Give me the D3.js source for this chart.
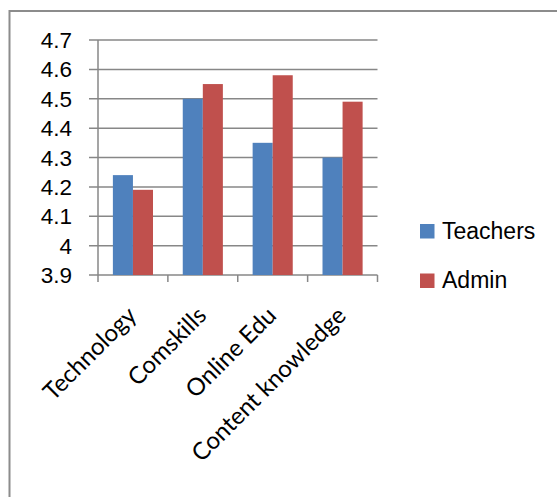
<!DOCTYPE html>
<html>
<head>
<meta charset="utf-8">
<script src="https://cdn.jsdelivr.net/npm/d3@7"></script>
<style>
  html, body { margin: 0; padding: 0; background: #fff; }
  svg { display: block; }
</style>
</head>
<body>
<div id="chart"></div>
<script>
const categories = ["Technology", "Comskills", "Online Edu", "Content knowledge"];
const seriesNames = ["Teachers", "Admin"];
const teachers = [4.24, 4.50, 4.35, 4.30];
const admin = [4.19, 4.55, 4.58, 4.49];
const yTicks = [3.9, 4.0, 4.1, 4.2, 4.3, 4.4, 4.5, 4.6, 4.7];
const colors = ["#4F81BD", "#C0504D"];

const W = 557, H = 497;
const svg = d3.select("#chart").append("svg").attr("width", W).attr("height", H);

// outer frame
svg.append("rect").attr("x", 9.5).attr("y", 11).attr("width", 700).attr("height", 700)
  .attr("fill", "none").attr("stroke", "#8c8c8c").attr("stroke-width", 2);

const pLeft = 98, pRight = 377.5, pTop = 40, pBottom = 275;
const x0 = d3.scaleBand().domain(categories).range([pLeft, pRight]).padding(0);
const bw = x0.bandwidth();
const pad = bw * 0.213;
const x1 = d3.scaleBand().domain(seriesNames).range([pad, bw - pad]).padding(0);
const y = d3.scaleLinear().domain([3.9, 4.7]).range([pBottom, pTop]);

// gridlines
svg.append("g").selectAll("line").data(yTicks).join("line")
  .attr("x1", pLeft - 9).attr("x2", pRight)
  .attr("y1", d => y(d)).attr("y2", d => y(d))
  .attr("stroke", "#878787").attr("stroke-width", 1.5);

// y axis line
svg.append("line").attr("x1", pLeft).attr("x2", pLeft).attr("y1", pTop).attr("y2", pBottom)
  .attr("stroke", "#878787").attr("stroke-width", 1.5);

// x tick marks at category boundaries
const bounds = categories.map(c => x0(c)).concat([x0(categories[categories.length - 1]) + bw]);
svg.append("g").selectAll("line").data(bounds).join("line")
  .attr("x1", d => d).attr("x2", d => d).attr("y1", pBottom).attr("y2", pBottom + 7)
  .attr("stroke", "#878787").attr("stroke-width", 1.5);

// y tick labels
svg.append("g").selectAll("text").data(yTicks).join("text")
  .attr("x", 72).attr("y", d => y(d) + 8)
  .attr("text-anchor", "end")
  .attr("font-family", "Liberation Sans, Arial, sans-serif")
  .attr("font-size", 22.5).attr("fill", "#000")
  .text(d => String(+d.toFixed(1)));

// bars
const data = categories.map((c, i) => ({ c, vals: [teachers[i], admin[i]] }));
const groups = svg.append("g").selectAll("g").data(data).join("g")
  .attr("transform", d => `translate(${x0(d.c)},0)`);
groups.selectAll("rect").data(d => d.vals.map((v, j) => ({ s: seriesNames[j], v, j })))
  .join("rect")
  .attr("x", d => x1(d.s)).attr("width", x1.bandwidth())
  .attr("y", d => y(d.v)).attr("height", d => pBottom - y(d.v))
  .attr("fill", d => colors[d.j]);

// category labels
svg.append("g").selectAll("text").data(categories).join("text")
  .attr("transform", d => `translate(${x0(d) + bw / 2 + 5},${pBottom + 42}) rotate(-45)`)
  .attr("text-anchor", "end")
  .attr("font-family", "Lato, sans-serif")
  .attr("font-size", 24).attr("fill", "#000")
  .text(d => d);

// legend
const legend = svg.append("g").selectAll("g").data(seriesNames).join("g")
  .attr("transform", (d, i) => `translate(420,${224 + i * 49.5})`);
legend.append("rect").attr("width", 14.5).attr("height", 14.5).attr("fill", (d, i) => colors[i]);
legend.append("text").attr("x", 22).attr("y", 14.5)
  .attr("font-family", "Liberation Sans, Arial, sans-serif")
  .attr("font-size", 23).attr("fill", "#000")
  .text(d => d);
</script>
</body>
</html>
